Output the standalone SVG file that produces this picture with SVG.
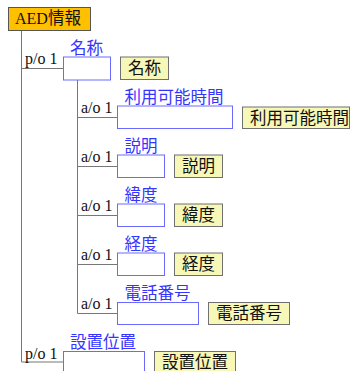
<svg xmlns="http://www.w3.org/2000/svg" width="353" height="371" viewBox="0 0 353 371">
<style>
.ln{stroke:#777;stroke-width:1;fill:none}
.card{fill:#fff;stroke:#6a6aff;stroke-width:1}
.lab{fill:#f7f7b8;stroke:#707070;stroke-width:1}
.t{font-family:"Liberation Serif","Noto Sans CJK JP",serif;font-size:16px;fill:#111}
.bl{font-family:"Liberation Serif","Noto Sans CJK JP",serif;font-size:16.5px;fill:#3535ff}
.yt{font-family:"Liberation Sans","Noto Sans CJK JP",sans-serif;font-size:16.5px;fill:#111}
</style>
<rect width="353" height="371" fill="#fff"/>
<g id="connectors">
<path class="ln" d="M21.5 31V362H63.5"/>
<path class="ln" d="M21.5 68.5H63.5"/>
<path class="ln" d="M77.5 80V313.5H117.5"/>
<path class="ln" d="M77.5 117.5H117.5"/>
<path class="ln" d="M77.5 166.5H117.5"/>
<path class="ln" d="M77.5 215.5H117.5"/>
<path class="ln" d="M77.5 264.5H117.5"/>
<text class="t" x="25" y="64">p/o 1</text>
<text class="t" x="25" y="359">p/o 1</text>
<text class="t" x="81" y="113">a/o 1</text>
<text class="t" x="81" y="162">a/o 1</text>
<text class="t" x="81" y="211">a/o 1</text>
<text class="t" x="81" y="260">a/o 1</text>
<text class="t" x="81" y="309">a/o 1</text>
</g>
<g id="aed">
<rect x="8.5" y="7.5" width="82" height="23" fill="#ffc000" stroke="#555"/>
<text class="t" x="15" y="24">AED<tspan font-size="16.5">情報</tspan></text>
</g>
<g id="meisho">
<text class="bl" x="70" y="54">名称</text>
<rect class="card" x="63.5" y="57" width="47" height="23"/>
<rect class="lab" x="120.5" y="57" width="48" height="22.5"/>
<text class="yt" x="128" y="74">名称</text>
</g>
<g id="riyou">
<text class="bl" x="124.5" y="103">利用可能時間</text>
<rect class="card" x="117.5" y="106" width="115" height="22.5"/>
<rect class="lab" x="242.5" y="107" width="107" height="21.5"/>
<text class="yt" x="250" y="123.5">利用可能時間</text>
</g>
<g id="setsumei">
<text class="bl" x="124.5" y="152">説明</text>
<rect class="card" x="117.5" y="155" width="47" height="22.5"/>
<rect class="lab" x="174.5" y="155" width="48" height="22.5"/>
<text class="yt" x="182" y="172">説明</text>
</g>
<g id="ido">
<text class="bl" x="124.5" y="201">緯度</text>
<rect class="card" x="117.5" y="204" width="47" height="22.5"/>
<rect class="lab" x="174.5" y="204" width="48" height="22.5"/>
<text class="yt" x="182" y="221">緯度</text>
</g>
<g id="keido">
<text class="bl" x="124.5" y="250">経度</text>
<rect class="card" x="117.5" y="253" width="47" height="22.5"/>
<rect class="lab" x="174.5" y="253" width="48" height="22.5"/>
<text class="yt" x="182" y="270">経度</text>
</g>
<g id="denwa">
<text class="bl" x="124.5" y="299">電話番号</text>
<rect class="card" x="117.5" y="302.5" width="81" height="22"/>
<rect class="lab" x="208.5" y="302.5" width="81" height="22"/>
<text class="yt" x="216" y="319">電話番号</text>
</g>
<g id="secchi">
<text class="bl" x="70" y="348">設置位置</text>
<rect class="card" x="63.5" y="351.5" width="81" height="25"/>
<rect class="lab" x="154.5" y="351.5" width="81" height="25"/>
<text class="yt" x="162" y="368">設置位置</text>
</g>
</svg>
